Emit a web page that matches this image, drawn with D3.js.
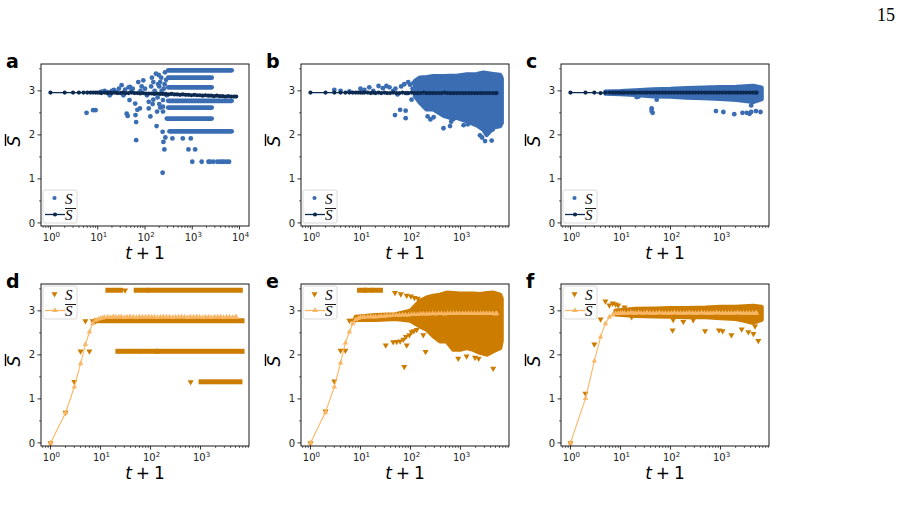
<!DOCTYPE html>
<html><head><meta charset="utf-8">
<script src="https://cdn.jsdelivr.net/npm/d3@7"></script>
<style>body{margin:0;background:#fff;} svg{display:block;font-family:"DejaVu Sans",sans-serif;}</style>
</head><body><svg id="c" width="903" height="518"></svg>
<script>
// ---------------- DATA ----------------
const tGrid = [1,2,3,4,5,6,7,8,9,10,11,12,14,16,18,20,23,26,30,34,39,45,52,60,69,79,91,105,120,138,158,182,209,240,276,317,364,418,480,550,630,725,832,955,1100,1260,1450,1660,1910,2190,2510,2880,3310,3800,4370,5010,5250];
const tA = [1,2,3,4,5,6,7,8,9,10,11,12,14,16,18,20,23,26,30,34,39,45,52,60,69,79,91,105,120,138,158,182,209,240,276,317,364,418,480,550,630,725,832,955,1100,1260,1450,1660,1910,2190,2510,2880,3310,3800,4370,5010,5750,6610,7590,8500];

const aMean = [2.96,2.96,2.96,2.96,2.96,2.96,2.96,2.96,2.96,2.96,2.96,2.95,
 2.96,2.95,2.96,2.95,
 2.96,2.95,2.95,2.96,2.95,2.95,2.96,2.95,2.95,2.94,
 2.95,2.94,2.94,2.94,2.93,2.94,2.93,2.93,2.93,2.92,
 2.93,2.92,2.92,2.91,2.92,2.91,2.91,2.90,2.91,2.90,
 2.90,2.89,2.90,2.89,2.89,2.88,2.89,2.88,2.88,2.87,
 2.88,2.87,2.87,2.87];
const bMean = [2.96,2.96,2.96,2.96,2.96,2.96,2.96,2.96,2.96,2.96,2.96,2.96,
 2.96,2.95,2.96,2.95,
 2.96,2.95,2.96,2.95,2.95,2.96,2.95,2.95,2.96,2.95,
 2.95,2.96,2.95,2.95,2.95,2.96,2.95,2.95,2.95,2.95,
 2.95,2.95,2.96,2.95,2.95,2.95,2.95,2.95,2.95,2.95,
 2.95,2.95,2.95,2.95,2.95,2.95,2.95,2.95,2.95,2.95,
 2.95];
const cMean = [2.96,2.96,2.96,2.95,2.96,2.96,2.96,2.96,2.96,2.96,2.96,2.96,
 2.96,2.96,2.96,2.96,
 2.96,2.96,2.96,2.96,2.96,2.96,2.96,2.96,2.96,2.96,
 2.96,2.96,2.96,2.96,2.96,2.96,2.96,2.96,2.96,2.96,
 2.96,2.96,2.96,2.96,2.96,2.96,2.96,2.96,2.96,2.96,
 2.96,2.96,2.96,2.96,2.96,2.96,2.96,2.96,2.96,2.96,
 2.96];
const dMean = [0,0.68,1.27,1.80,2.24,2.52,2.71,2.79,2.81,2.83,2.84,2.85,
 2.86,2.85,2.87,2.86,
 2.86,2.87,2.85,2.86,2.87,2.86,2.85,2.87,2.86,2.86,
 2.87,2.86,2.86,2.85,2.86,2.87,2.86,2.86,2.85,2.86,
 2.86,2.87,2.86,2.85,2.86,2.86,2.87,2.86,2.85,2.86,
 2.86,2.85,2.86,2.86,2.87,2.85,2.86,2.86,2.85,2.86,
 2.85];
const eMean = [0,0.70,1.27,1.82,2.27,2.52,2.71,2.80,2.83,2.85,2.85,2.86,
 2.86,2.87,2.86,2.87,
 2.87,2.88,2.88,2.89,2.89,2.90,2.90,2.90,2.91,2.91,
 2.91,2.92,2.92,2.92,2.93,2.93,2.93,2.93,2.94,2.93,
 2.94,2.94,2.93,2.94,2.94,2.94,2.94,2.94,2.94,2.94,
 2.94,2.94,2.94,2.94,2.94,2.94,2.94,2.94,2.94,2.93,
 2.94];
const fMean = [0,1.01,1.86,2.41,2.71,2.86,2.91,2.94,2.94,2.95,2.95,2.95,
 2.95,2.96,2.95,2.95,
 2.96,2.95,2.95,2.96,2.95,2.95,2.95,2.96,2.95,2.95,
 2.95,2.95,2.96,2.95,2.95,2.95,2.95,2.96,2.95,2.95,
 2.95,2.96,2.95,2.95,2.95,2.95,2.96,2.95,2.95,2.95,
 2.95,2.95,2.95,2.96,2.95,2.95,2.95,2.95,2.95,2.95,
 2.95];

// individual scatter points [t+1, S]
const aPts = [[5.8,2.5],[8,2.56],[9,2.56],[12,2.98],[14,3.0],[16,2.97],[18,2.9],[20,3.0],[22,3.02],[25,2.97],[28,3.05],
 [32,3.13],[35,2.9],[38,3.03],[41,2.48],[43,2.43],[45,3.08],[48,3.09],[47,2.79],[52,3.0],[55,3.05],[62,2.71],[63,2.45],
 [65,2.29],[65,1.88],[69,2.57],[72,3.2],[78,2.6],[80,3.0],[85,3.1],[92,3.24],[100,3.05],[110,2.9],[120,2.75],[120,2.6],
 [130,2.42],[135,3.1],[140,3.3],[145,2.7],[150,3.2],[150,2.8],[160,3.0],[160,2.95],[170,3.39],[176,2.2],[180,2.53],
 [185,2.85],[190,3.15],[195,3.36],[200,3.1],[200,2.7],[209,3.2],[210,2.62],[220,3.3],[225,3.0],[236,2.07],[236,1.14],
 [240,2.79],[240,2.64],[240,2.53],[245,1.84],[250,3.05],[257,1.67],[260,3.15],[265,3.42],[270,1.94],[280,3.25],[285,2.9],
 [380,1.92],[630,1.92],[930,1.92],[830,1.67],[1150,1.67],[1000,1.39],[1580,1.39],[2200,1.39],[2400,1.39],[2800,1.39],
 [3400,1.39],[3900,1.39],[4300,1.39],[4700,1.39],[5400,1.39],[6000,1.39]];
// dense horizontal runs [t0, t1, S]
const aBands = [[310,6800,3.466],[310,2570,3.30],[310,2570,3.08],[310,6800,2.773],[310,2570,2.62],[290,2570,2.37],[330,6800,2.08]];

const bPts = [[3,3.02],[4,3.0],[6,2.99],[10,3.05],[12,3.02],[15,3.08],[18,3.0],[23,3.11],[28,3.06],[33,3.11],[38,3.08],
 [45,3.0],[50,3.05],[55,2.92],[65,3.1],[75,3.15],[85,2.95],[90,3.2],[98,3.14],[105,2.8],[110,3.05],[115,3.18],
 [49,2.45],[62,2.57],[80,2.55],[80,2.38],[220,2.42],[250,2.35],[290,2.4],[457,2.15],[617,2.2],[650,2.3],[720,2.36],
 [1150,2.22],[1400,2.24],[2450,1.99],[2700,1.94],[3090,1.86],[4200,1.87],[4400,2.12]];
const bCloudT = [123,155,210,288,457,617,835,1330,2110,2870,3340,4540,6170,6640];
const bCloudHi = [3.22,3.30,3.31,3.33,3.33,3.34,3.34,3.37,3.38,3.41,3.40,3.38,3.36,3.28];
const bCloudLo = [2.88,2.73,2.58,2.58,2.44,2.39,2.39,2.31,2.22,2.12,2.00,2.17,2.20,2.27];

const cPts = [[42,2.6],[42,2.54],[44,2.5],[53,2.8],[21,2.86],[23,2.87],[810,2.54],[1140,2.52],[1880,2.47],[2750,2.5],
 [3350,2.5],[3800,2.48],[4100,2.52],[5100,2.54],[6300,2.52],[4100,2.67]];
const cCloudT = [5,10,20,45,100,210,460,980,2100,4500,6600];
const cCloudHi = [2.98,2.99,3.01,3.03,3.04,3.06,3.07,3.08,3.09,3.11,3.07];
const cCloudLo = [2.94,2.93,2.91,2.88,2.87,2.85,2.84,2.82,2.80,2.75,2.81];

const dPts = [[1,0],[2,0.69],[3,1.39],[4,2.08],[5,2.77],[6,2.08],[7,2.77],[8,2.77],[31,3.466],[635,1.386]];
const dBands = [[14.4,24.6,3.466],[53,80,3.466],[97,6100,3.466],[8.4,6600,2.773],[22.8,57,2.079],[72,129,2.079],[144,6600,2.079],[1050,6000,1.386]];

const ePts = [[1,0],[2,0.72],[3,1.4],[4,2.1],[5,2.1],[6,2.78],[7,2.78],[8,2.8],[9,2.82],
 [49,3.41],[64,3.38],[84,3.35],[102,3.33],[120,3.3],[140,3.28],
 [32,2.22],[45,2.29],[53,2.3],[62,2.31],[72,2.35],[81,2.41],[95,2.45],[105,2.52],[117,2.54],[133,2.57],[84,2.22],
 [75,1.73],[200,2.07],[180,2.45],[900,1.92],[1320,1.97],[1950,1.94],[2300,1.92],[4500,1.69]];
const eBands = [[9.8,11.8,3.466],[13.3,16,3.466],[19.5,24.5,3.466]];
const eCloudT = [8,20,50,100,155,210,285,390,530,720,980,1320,1800,2450,3350,4550,6200,6600];
const eCloudHi = [2.86,2.90,2.92,3.00,3.22,3.30,3.34,3.36,3.41,3.40,3.39,3.39,3.39,3.38,3.40,3.41,3.36,3.28];
const eCloudLo = [2.80,2.80,2.82,2.78,2.65,2.58,2.43,2.31,2.31,2.12,2.12,2.16,2.12,2.05,2.01,2.09,2.16,2.32];

const fPts = [[1,0],[2,1.12],[3,2.24],[4,2.81],[5,3.22],[6,3.13],[7,3.17],[8,3.15],[9,3.13],[12,3.08],[14,3.02],[25,3.05],
 [16.7,2.86],[113,2.8],[110,2.56],[180,2.75],[285,2.79],[490,2.54],[930,2.56],[1100,2.54],[1650,2.45],[2650,2.58],
 [3600,2.52],[4550,2.48],[5700,2.32],[4900,2.65]];
const fCloudT = [8,20,50,100,200,500,1000,2000,3000,4500,6600];
const fCloudHi = [3.0,3.04,3.05,3.06,3.06,3.07,3.09,3.09,3.10,3.11,3.09];
const fCloudLo = [2.92,2.89,2.88,2.87,2.86,2.86,2.84,2.82,2.78,2.73,2.80];

const yTicks = [0,1,2,3];
const panelLetters = ['a','b','c','d','e','f'];
const pageNumber = '15';

// ---------------- DRAW ----------------
const svg = d3.select('#c');
const W = 208, H = 162;
const blue = '#3b6db3', navy = '#0c2a50', orange = '#cc7d00', peach = '#f9b766';
const yDom = [-0.07, 3.61];
const xDomA = [Math.pow(10,-0.2), Math.pow(10,4.2)];
const xDomB = [Math.pow(10,-0.189), Math.pow(10,3.969)];
const zip3 = (t,h,l) => t.map((v,i)=>[v,h[i],l[i]]);

const panels = [
 {x:41, y:64, xdom:xDomA, dec:[0,1,2,3,4], type:'blue', mt:tA, ms:aMean, pts:aPts, bands:aBands, cloud:null},
 {x:301,y:64, xdom:xDomB, dec:[0,1,2,3], type:'blue', mt:tGrid, ms:bMean, pts:bPts, bands:[], cloud:zip3(bCloudT,bCloudHi,bCloudLo)},
 {x:561,y:64, xdom:xDomB, dec:[0,1,2,3], type:'blue', mt:tGrid, ms:cMean, pts:cPts, bands:[], cloud:zip3(cCloudT,cCloudHi,cCloudLo)},
 {x:41, y:284,xdom:xDomB, dec:[0,1,2,3], type:'orange', mt:tGrid, ms:dMean, pts:dPts, bands:dBands, cloud:null},
 {x:301,y:284,xdom:xDomB, dec:[0,1,2,3], type:'orange', mt:tGrid, ms:eMean, pts:ePts, bands:eBands, cloud:zip3(eCloudT,eCloudHi,eCloudLo)},
 {x:561,y:284,xdom:xDomB, dec:[0,1,2,3], type:'orange', mt:tGrid, ms:fMean, pts:fPts, bands:[], cloud:zip3(fCloudT,fCloudHi,fCloudLo)}
];

const triDown = d3.symbol().type(d3.symbolTriangle).size(16)();
const triUp = d3.symbol().type(d3.symbolTriangle).size(13)();

panels.forEach((p, i) => {
  const x = d3.scaleLog().domain(p.xdom).range([p.x, p.x + W]);
  const y = d3.scaleLinear().domain(yDom).range([p.y + H, p.y]);
  const isBlue = p.type === 'blue';
  const sc = isBlue ? blue : orange, mc = isBlue ? navy : peach;
  const clipId = 'clip' + i;
  svg.append('clipPath').attr('id', clipId).append('rect')
     .attr('x', p.x).attr('y', p.y).attr('width', W).attr('height', H);
  const g = svg.append('g').attr('clip-path', `url(#${clipId})`);

  // dense cloud
  if (p.cloud) {
    const area = d3.area().x(d => x(d[0])).y0(d => y(d[2])).y1(d => y(d[1])).curve(d3.curveLinear);
    g.append('path').datum(p.cloud).attr('d', area)
      .attr('fill', sc).attr('stroke', sc).attr('stroke-width', 4.5).attr('stroke-linejoin', 'round');
  }
  // dense runs
  p.bands.forEach(b => {
    if (isBlue) {
      g.append('line').attr('x1', x(b[0])).attr('x2', x(b[1])).attr('y1', y(b[2])).attr('y2', y(b[2]))
        .attr('stroke', sc).attr('stroke-width', 4.8).attr('stroke-linecap', 'round');
    } else {
      g.append('rect').attr('x', x(b[0]) - 3).attr('width', x(b[1]) - x(b[0]) + 6)
        .attr('y', y(b[2]) - 2.6).attr('height', 5).attr('fill', sc);
    }
  });
  // individual points
  if (isBlue) {
    g.selectAll(null).data(p.pts).join('circle')
      .attr('cx', d => x(d[0])).attr('cy', d => y(d[1])).attr('r', 2.4).attr('fill', sc);
  } else {
    g.selectAll(null).data(p.pts).join('path').attr('d', triDown)
      .attr('transform', d => `translate(${x(d[0])},${y(d[1])}) rotate(180)`).attr('fill', sc);
  }
  // mean line
  const md = p.mt.map((t, k) => [t, p.ms[k]]);
  g.append('path').datum(md).attr('d', d3.line().x(d => x(d[0])).y(d => y(d[1])))
    .attr('fill', 'none').attr('stroke', mc).attr('stroke-width', isBlue ? 1.3 : 1.1);
  if (isBlue) {
    g.selectAll(null).data(md).join('circle')
      .attr('cx', d => x(d[0])).attr('cy', d => y(d[1])).attr('r', 2.1).attr('fill', mc);
  } else {
    g.selectAll(null).data(md).join('path').attr('d', triUp)
      .attr('transform', d => `translate(${x(d[0])},${y(d[1])})`).attr('fill', mc);
  }

  // axes
  const ax = svg.append('g');
  const bot = p.y + H;
  yTicks.forEach(v => {
    ax.append('line').attr('x1', p.x - 3.5).attr('x2', p.x).attr('y1', y(v)).attr('y2', y(v)).attr('stroke', '#000').attr('stroke-width', 0.8);
    ax.append('text').attr('x', p.x - 6).attr('y', y(v) + 3.6).attr('text-anchor', 'end')
      .attr('font-size', 10).attr('fill', '#222').text(v);
  });
  [0.5,1.5,2.5,3.5].forEach(v => {
    ax.append('line').attr('x1', p.x - 2).attr('x2', p.x).attr('y1', y(v)).attr('y2', y(v)).attr('stroke', '#000').attr('stroke-width', 0.6);
  });
  const dmin = Math.floor(Math.log10(p.xdom[0])), dmax = Math.ceil(Math.log10(p.xdom[1]));
  for (let e = dmin; e <= dmax; e++) {
    for (let k = 2; k <= 9; k++) {
      const v = k * Math.pow(10, e);
      if (v < p.xdom[0] || v > p.xdom[1]) continue;
      ax.append('line').attr('x1', x(v)).attr('x2', x(v)).attr('y1', bot).attr('y2', bot + 2).attr('stroke', '#000').attr('stroke-width', 0.6);
    }
  }
  p.dec.forEach(e => {
    const v = Math.pow(10, e);
    ax.append('line').attr('x1', x(v)).attr('x2', x(v)).attr('y1', bot).attr('y2', bot + 3.5).attr('stroke', '#000').attr('stroke-width', 0.8);
    const t = ax.append('text').attr('x', x(v) + 1).attr('y', bot + 15).attr('text-anchor', 'middle').attr('font-size', 10).attr('fill', '#222');
    t.append('tspan').text('10');
    t.append('tspan').attr('dy', -4.5).attr('font-size', 7).text(e);
  });
  ax.append('rect').attr('x', p.x).attr('y', p.y).attr('width', W).attr('height', H)
    .attr('fill', 'none').attr('stroke', '#000').attr('stroke-width', 0.9);

  const xl = ax.append('text').attr('x', p.x + W / 2).attr('y', bot + 33).attr('text-anchor', 'middle').attr('font-size', 17);
  xl.append('tspan').attr('font-style', 'italic').text('t');
  xl.append('tspan').attr('dx', 4).text('+');
  xl.append('tspan').attr('dx', 4).text('1');

  const yl = ax.append('g').attr('transform', `translate(${p.x - 21},${p.y + H / 2 - 4}) rotate(-90)`);
  yl.append('text').attr('x', 0).attr('y', 0).attr('text-anchor', 'middle').attr('font-size', 17).attr('font-style', 'italic').text('S');
  yl.append('line').attr('x1', -5).attr('x2', 7).attr('y1', -14.5).attr('y2', -14.5).attr('stroke', '#000').attr('stroke-width', 1.4);

  svg.append('text').attr('x', p.x - 35).attr('y', p.y + 4).attr('font-size', 19).attr('font-weight', 'bold').text(panelLetters[i]);

  const top = isBlue ? p.y + 126 : p.y + 2;
  const lg = svg.append('g');
  lg.append('rect').attr('x', p.x + 2).attr('y', top).attr('width', 34).attr('height', 33).attr('rx', 2)
    .attr('fill', '#fff').attr('fill-opacity', 0.8).attr('stroke', '#d0d0d0').attr('stroke-width', 0.8);
  if (isBlue) {
    lg.append('circle').attr('cx', p.x + 13.5).attr('cy', top + 8).attr('r', 2.1).attr('fill', sc);
  } else {
    lg.append('path').attr('d', triDown).attr('transform', `translate(${p.x + 13.5},${top + 8}) rotate(180)`).attr('fill', sc);
  }
  lg.append('text').attr('x', p.x + 24).attr('y', top + 14).attr('font-family', '"Liberation Serif",serif')
    .attr('font-style', 'italic').attr('font-size', 15).text('S');
  lg.append('line').attr('x1', p.x + 4).attr('x2', p.x + 24).attr('y1', top + 24.5).attr('y2', top + 24.5).attr('stroke', mc).attr('stroke-width', 1.3);
  if (isBlue) {
    lg.append('circle').attr('cx', p.x + 14).attr('cy', top + 24.5).attr('r', 2.1).attr('fill', mc);
  } else {
    lg.append('path').attr('d', triUp).attr('transform', `translate(${p.x + 14},${top + 24.5})`).attr('fill', mc);
  }
  lg.append('line').attr('x1', p.x + 24).attr('x2', p.x + 35).attr('y1', top + 18.5).attr('y2', top + 18.5).attr('stroke', '#000').attr('stroke-width', 0.9);
  lg.append('text').attr('x', p.x + 24).attr('y', top + 30).attr('font-family', '"Liberation Serif",serif')
    .attr('font-style', 'italic').attr('font-size', 15).text('S');
});

svg.append('text').attr('x', 877).attr('y', 21).attr('font-family', '"Liberation Serif",serif').attr('font-size', 18).text(pageNumber);
</script></body></html>
